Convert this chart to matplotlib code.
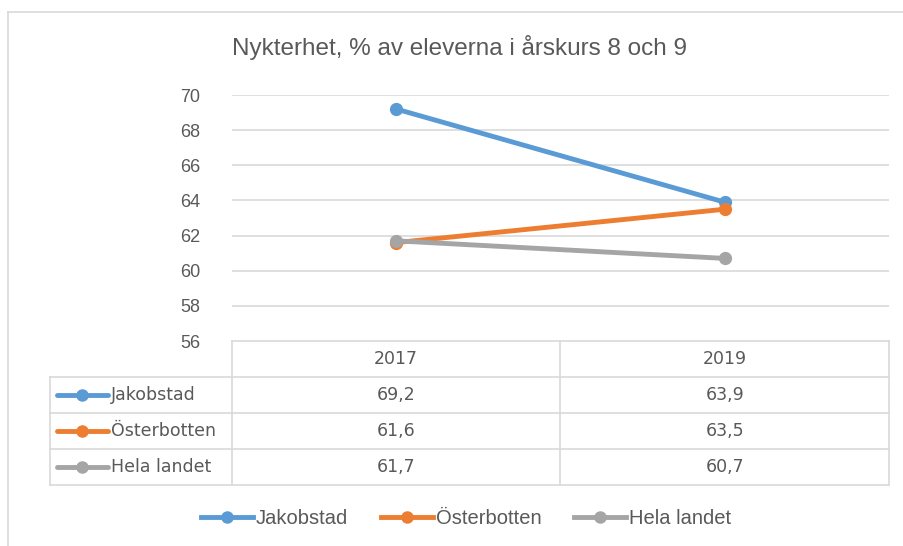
import matplotlib
matplotlib.use("Agg")
import matplotlib.pyplot as plt
from matplotlib.lines import Line2D

years = ["2017", "2019"]
series = ["Jakobstad", "Österbotten", "Hela landet"]
jakobstad = [69.2, 63.9]
osterbotten = [61.6, 63.5]
hela_landet = [61.7, 60.7]
values = [jakobstad, osterbotten, hela_landet]
colors = ["#5B9BD5", "#ED7D31", "#A5A5A5"]
yticks = [56, 58, 60, 62, 64, 66, 68, 70]

W, H = 904, 546
txt = "#595959"
grid = "#D9D9D9"
plt.rcParams['font.family'] = ['Liberation Sans', 'DejaVu Sans']
tab_font = ['DejaVu Sans']

fig = plt.figure(figsize=(W / 100, H / 100), dpi=100)

def fx(x):
    return x / W

def fy(y):
    return 1 - y / H

# chart frame
fig.add_artist(Line2D([fx(8), fx(8)], [fy(12), fy(546)], color=grid, lw=1.2))
fig.add_artist(Line2D([fx(8), fx(904)], [fy(12), fy(12)], color=grid, lw=1.2))

fig.text(fx(460), fy(47), "Nykterhet, % av eleverna i årskurs 8 och 9",
         ha="center", va="center", fontsize=17.5, color=txt)

# plot area
left, right, top, bottom = 232, 889, 95, 341
ax = fig.add_axes([fx(left), fy(bottom), fx(right - left), (bottom - top) / H])
ax.set_xlim(-0.5, len(years) - 0.5)
ax.set_ylim(56, 70)
for s in ax.spines.values():
    s.set_visible(False)
ax.set_xticks([])
ax.set_yticks(yticks)
ax.tick_params(axis="y", length=0, pad=23, labelsize=13, labelcolor=txt)
for t in yticks[1:]:
    ax.axhline(t, color=grid, lw=1.2, zorder=0)
for v, c in zip(values, colors):
    ax.plot(range(len(years)), v, color=c, lw=3.5, marker="o", ms=8.5, zorder=3)

# data table
row_h = 36
tab_left = 50
col_edges = [left, (left + right) / 2, right]
n_rows = len(series) + 1
tab_bottom = bottom + row_h * n_rows
lw = 1.2
for i in range(n_rows + 1):
    y = bottom + i * row_h
    x0 = left if i == 0 else tab_left
    fig.add_artist(Line2D([fx(x0), fx(right)], [fy(y), fy(y)], color=grid, lw=lw))
fig.add_artist(Line2D([fx(tab_left), fx(tab_left)], [fy(bottom + row_h), fy(tab_bottom)], color=grid, lw=lw))
for x in col_edges:
    fig.add_artist(Line2D([fx(x), fx(x)], [fy(bottom), fy(tab_bottom)], color=grid, lw=lw))

centers = [(col_edges[i] + col_edges[i + 1]) / 2 for i in range(len(years))]
for j, yr in enumerate(years):
    fig.text(fx(centers[j]), fy(bottom + row_h / 2), yr, ha="center", va="center",
             fontsize=12.5, color=txt, family=tab_font)
for i, (name, v, c) in enumerate(zip(series, values, colors)):
    yc = bottom + row_h * (i + 1.5)
    fig.add_artist(Line2D([fx(57), fx(108)], [fy(yc), fy(yc)], color=c, lw=3.5,
                          solid_capstyle="round"))
    fig.add_artist(Line2D([fx(82)], [fy(yc)], color=c, marker="o", ms=8))
    fig.text(fx(111), fy(yc), name, ha="left", va="center", fontsize=12.5, color=txt,
             family=tab_font)
    for j in range(len(years)):
        fig.text(fx(centers[j]), fy(yc), f"{v[j]:.1f}".replace(".", ","),
                 ha="center", va="center", fontsize=12.5, color=txt, family=tab_font)

# legend
handles = [Line2D([], [], color=c, lw=3.5, marker="o", ms=8) for c in colors]
fig.legend(handles, series, loc="center", bbox_to_anchor=(fx(466), fy(519)), ncol=3,
           frameon=False, fontsize=14.5, labelcolor=txt, handlelength=2.6,
           handletextpad=0.15, columnspacing=1.6)

fig.savefig("out.png", dpi=100)
